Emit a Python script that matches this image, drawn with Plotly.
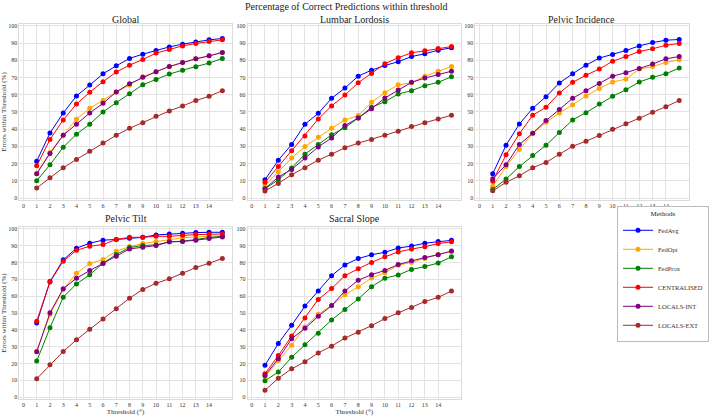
import plotly.graph_objects as go

thresholds = list(range(1, 16))
x_tick_vals = list(range(0, 15))
y_tick_vals = list(range(0, 101, 10))

methods = ["FedAvg", "FedOpt", "FedProx", "CENTRALISED", "LOCALS-INT", "LOCALS-EXT"]
colors = ["#0000FF", "#FFA500", "#008000", "#FF0000", "#800080", "#A52A2A"]

panel_titles = ["Global", "Lumbar Lordosis", "Pelvic Incidence", "Pelvic Tilt", "Sacral Slope"]

global_fedavg = [21.4, 37.8, 49.4, 59.3, 65.6, 72.2, 76.8, 81.1, 83.6, 85.7, 87.8, 89.4, 90.7, 91.9, 92.7]
global_fedopt = [14.3, 26.4, 36.6, 45.8, 52.1, 56.6, 61.6, 65.6, 70.5, 73.4, 76.4, 78.8, 80.9, 82.6, 84.6]
global_fedprox = [10.0, 19.3, 29.5, 37.1, 42.9, 50.0, 55.4, 60.6, 65.8, 68.9, 72.0, 74.3, 76.3, 78.4, 81.1]
global_central = [18.7, 34.0, 45.4, 54.6, 61.4, 67.6, 73.2, 77.2, 80.5, 84.2, 86.3, 88.4, 89.8, 90.9, 91.9]
global_int = [14.1, 25.9, 36.5, 42.9, 49.4, 55.0, 61.6, 66.4, 70.1, 73.4, 76.4, 78.8, 80.9, 82.6, 84.6]
global_ext = [5.8, 11.8, 17.6, 22.4, 27.2, 31.9, 36.5, 40.5, 43.8, 47.5, 50.6, 53.5, 56.6, 59.1, 62.4]

ll_fedavg = [10.6, 22.0, 31.1, 42.9, 49.2, 57.9, 63.9, 70.8, 74.3, 77.0, 79.2, 82.2, 83.8, 85.9, 87.3]
ll_fedopt = [7.3, 15.3, 23.2, 29.9, 35.3, 40.5, 45.4, 47.9, 55.6, 61.2, 65.8, 67.0, 70.8, 73.7, 76.4]
ll_fedprox = [5.4, 10.6, 17.4, 25.5, 31.1, 36.7, 40.9, 46.5, 52.7, 56.0, 60.4, 62.4, 65.3, 67.2, 70.5]
ll_central = [9.1, 18.3, 27.4, 36.1, 45.9, 53.5, 59.8, 67.0, 72.4, 78.0, 81.5, 84.4, 85.5, 86.9, 88.0]
ll_int = [5.4, 12.2, 16.6, 23.2, 29.7, 34.9, 42.1, 46.5, 51.9, 58.1, 62.7, 67.2, 69.7, 71.8, 73.7]
ll_ext = [4.1, 8.5, 13.5, 17.6, 22.0, 25.5, 29.2, 31.9, 34.0, 36.5, 38.8, 41.5, 43.8, 45.9, 48.1]

pi_fedavg = [14.1, 30.7, 43.0, 52.1, 58.9, 66.8, 72.2, 77.2, 81.3, 83.4, 85.7, 88.4, 90.3, 91.7, 92.1]
pi_fedopt = [6.9, 18.3, 28.2, 37.6, 44.0, 49.4, 54.2, 59.3, 63.7, 67.4, 69.1, 74.9, 76.4, 78.8, 80.3]
pi_fedprox = [5.0, 11.0, 18.3, 24.7, 30.7, 38.0, 45.4, 49.6, 54.6, 59.1, 62.9, 67.4, 70.1, 72.2, 75.5]
pi_central = [9.8, 25.1, 37.3, 48.1, 52.7, 61.0, 67.2, 71.4, 74.9, 79.5, 82.2, 85.1, 86.7, 88.8, 89.8]
pi_int = [11.2, 19.3, 31.1, 37.6, 45.0, 51.4, 57.9, 62.4, 66.6, 70.8, 72.8, 75.3, 77.8, 80.9, 82.2]
pi_ext = [4.2, 9.1, 12.9, 17.6, 20.7, 25.5, 30.1, 33.0, 36.3, 40.0, 43.2, 46.3, 49.8, 53.1, 56.6]

pt_fedavg = [44.0, 68.7, 81.6, 88.5, 91.5, 93.3, 93.7, 94.5, 95.0, 96.4, 97.0, 97.4, 97.8, 98.0, 98.0]
pt_fedopt = [27.3, 49.1, 64.0, 73.7, 79.4, 81.8, 86.7, 89.5, 91.3, 92.5, 93.7, 94.7, 95.2, 95.6, 96.0]
pt_fedprox = [21.4, 41.2, 59.4, 67.3, 72.7, 79.6, 84.8, 88.9, 90.1, 90.5, 92.3, 92.7, 93.7, 94.9, 95.6]
pt_central = [45.1, 68.5, 80.8, 87.3, 89.7, 90.7, 93.7, 95.0, 95.0, 95.6, 95.6, 96.2, 96.6, 96.8, 97.0]
pt_int = [26.9, 50.1, 64.4, 70.7, 75.2, 79.4, 83.8, 88.1, 89.1, 90.1, 92.3, 92.5, 93.3, 94.3, 95.2]
pt_ext = [10.9, 19.2, 27.1, 34.1, 40.4, 46.5, 52.5, 58.8, 64.0, 67.7, 70.3, 73.7, 77.0, 79.6, 82.4]

ss_fedavg = [18.9, 31.9, 42.7, 54.1, 63.1, 72.2, 78.6, 82.4, 84.6, 86.1, 88.6, 89.8, 91.5, 92.5, 93.2]
ss_fedopt = [12.2, 21.8, 30.9, 41.7, 49.2, 54.4, 60.8, 65.6, 70.8, 73.9, 78.4, 80.1, 82.4, 84.9, 86.5]
ss_fedprox = [9.8, 14.9, 23.7, 31.1, 38.0, 45.9, 52.1, 58.3, 65.6, 70.7, 72.6, 75.9, 77.6, 79.7, 83.4]
ss_central = [13.9, 24.7, 36.3, 47.1, 58.1, 64.5, 72.2, 76.3, 80.1, 83.4, 86.3, 88.0, 89.4, 91.3, 92.3]
ss_int = [12.9, 22.8, 34.7, 40.9, 48.1, 54.4, 63.1, 69.5, 72.8, 75.3, 78.8, 81.1, 83.0, 84.6, 86.9]
ss_ext = [4.1, 11.2, 16.8, 21.0, 26.3, 30.3, 35.1, 38.6, 42.5, 46.7, 50.2, 53.3, 56.8, 59.3, 63.1]

panels = [
    [global_fedavg, global_fedopt, global_fedprox, global_central, global_int, global_ext],
    [ll_fedavg, ll_fedopt, ll_fedprox, ll_central, ll_int, ll_ext],
    [pi_fedavg, pi_fedopt, pi_fedprox, pi_central, pi_int, pi_ext],
    [pt_fedavg, pt_fedopt, pt_fedprox, pt_central, pt_int, pt_ext],
    [ss_fedavg, ss_fedopt, ss_fedprox, ss_central, ss_int, ss_ext],
]

W, H = 709, 420
FONT = "Liberation Serif"

col_px = [(20, 238), (254.5, 473.5), (488.5, 707.5)]
row_px = [(23.3, 199.7), (227.3, 399.7)]
title_px = [19, 219]
positions = [(0, 0), (0, 1), (0, 2), (1, 0), (1, 1)]

fig = go.Figure()
annotations = []

for i, (vals, title) in enumerate(zip(panels, panel_titles)):
    r, c = positions[i]
    ax = "" if i == 0 else str(i + 1)
    for m, (name, col, ys) in enumerate(zip(methods, colors, vals)):
        fig.add_trace(go.Scatter(
            x=thresholds, y=ys, name=name, mode="lines+markers",
            line=dict(color=col, width=1),
            marker=dict(color=col, size=5),
            showlegend=(i == 0),
            xaxis="x" + ax, yaxis="y" + ax,
        ))
    x0, x1 = col_px[c]
    y0, y1 = row_px[r]
    xdom = [x0 / W, x1 / W]
    ydom = [1 - y1 / H, 1 - y0 / H]
    xa = dict(domain=xdom, range=[-0.3, 15.7], tickmode="array", tickvals=x_tick_vals,
              showgrid=True, gridcolor="#e3e3e3", gridwidth=1, zeroline=False,
              showline=True, linecolor="#dcdcdc", linewidth=1, mirror=True,
              tickfont=dict(family=FONT, size=6, color="#333333"), ticks="",
              anchor="y" + ax)
    ya = dict(domain=ydom, range=[-1, 101], tickmode="array", tickvals=y_tick_vals,
              showgrid=True, gridcolor="#e3e3e3", gridwidth=1, zeroline=False,
              showline=True, linecolor="#dcdcdc", linewidth=1, mirror=True,
              tickfont=dict(family=FONT, size=6, color="#333333"), ticks="",
              anchor="x" + ax)
    if r == 1 and c < 2:
        xa["title"] = dict(text="Threshold (°)", font=dict(family=FONT, size=7, color="#333333"), standoff=2)
    if c == 0:
        ya["title"] = dict(text="Errors within Threshold (%)", font=dict(family=FONT, size=7, color="#333333"), standoff=3)
    fig.update_layout(**{"xaxis" + ax: xa, "yaxis" + ax: ya})
    annotations.append(dict(text=title, x=(x0 + x1) / 2 / W, y=1 - title_px[r] / H,
                            xref="paper", yref="paper", xanchor="center", yanchor="middle",
                            showarrow=False, font=dict(family=FONT, size=10, color="#222222")))

annotations.append(dict(text="Percentage of Correct Predictions within threshold",
                        x=356 / W, y=1 - 5.5 / H, xref="paper", yref="paper",
                        xanchor="center", yanchor="middle", showarrow=False,
                        font=dict(family=FONT, size=10, color="#222222")))

fig.update_layout(
    width=W, height=H,
    margin=dict(l=0, r=0, t=0, b=0),
    paper_bgcolor="white", plot_bgcolor="white",
    annotations=annotations,
    showlegend=True,
    legend=dict(
        x=634 / W, y=1 - 274 / H, xanchor="left", yanchor="middle",
        bgcolor="white", bordercolor="#bbbbbb", borderwidth=1,
        font=dict(family=FONT, size=6.5, color="#333333"),
        title=dict(text="Methods", side="top center", font=dict(family=FONT, size=7, color="#222222")),
        itemwidth=30,
        tracegroupgap=0,
    ),
)

fig.write_html("out.html")
